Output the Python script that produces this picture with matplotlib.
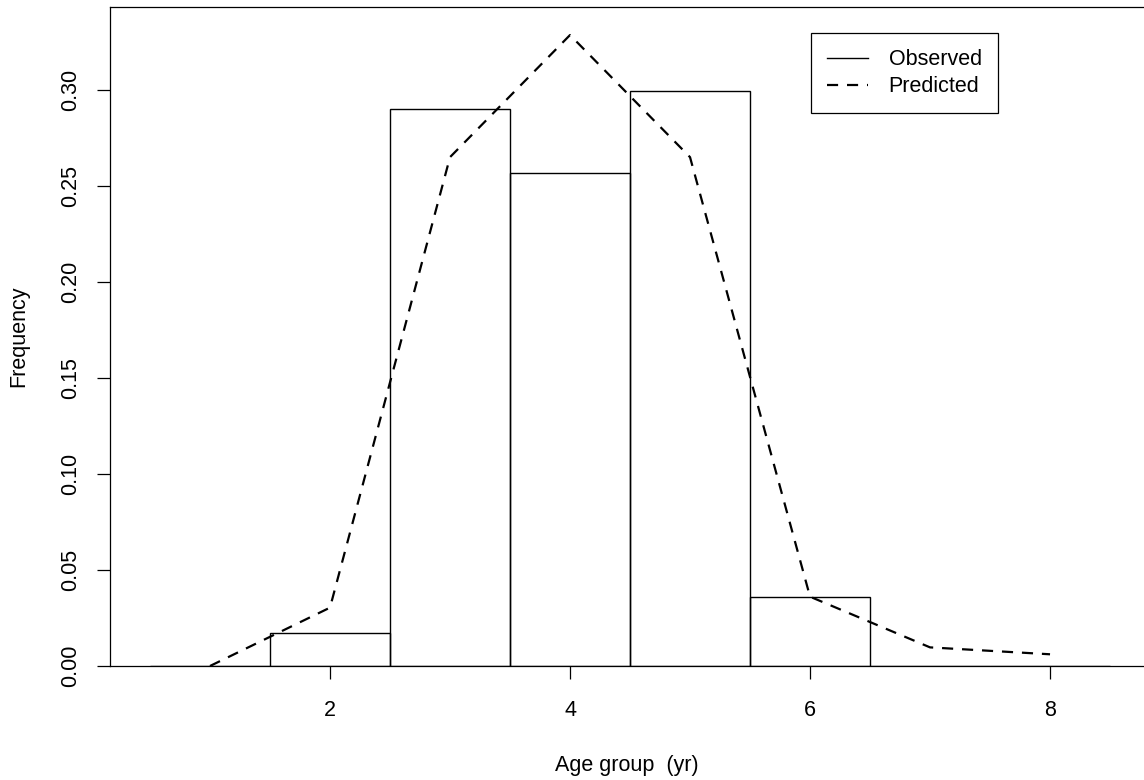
import matplotlib
matplotlib.use("Agg")
import matplotlib.pyplot as plt
from matplotlib.lines import Line2D

# age groups (bin centres) and observed / predicted frequencies
ages = [1, 2, 3, 4, 5, 6, 7, 8]
observed = [0.0, 0.0172, 0.290, 0.257, 0.2996, 0.0361, 0.0, 0.0]
predicted = [0.0, 0.0304, 0.265, 0.3286, 0.265, 0.0361, 0.0097, 0.0061]
yticks = [0.00, 0.05, 0.10, 0.15, 0.20, 0.25, 0.30]
xticks = [2, 4, 6, 8]

plt.rcParams['font.family'] = ['Liberation Sans', 'DejaVu Sans']
FS = 15.5

fig = plt.figure(figsize=(11.44, 7.8), dpi=100)
ax = fig.add_axes([110 / 1144, 1 - 666 / 780, 1 - 110 / 1144, (666 - 7) / 780])

ax.bar(ages, observed, width=1.0, fill=False, edgecolor='black', linewidth=1.0)
ax.plot(ages, predicted, color='black', linewidth=1.6, linestyle=(0, (5, 4)))

ax.set_xlim(0.1667, 8.783)
ax.set_ylim(0, 0.3432)
ax.set_xticks(xticks)
ax.set_xticklabels([str(t) for t in xticks])
ax.set_yticks(yticks)
ax.set_yticklabels(['%.2f' % t for t in yticks], rotation=90, va='center')
ax.tick_params(axis='both', direction='out', length=9.5, width=0.9, labelsize=FS)
ax.tick_params(axis='x', pad=15)
ax.tick_params(axis='y', pad=11)
ax.spines['right'].set_visible(False)
for s in ['left', 'top', 'bottom']:
    ax.spines[s].set_linewidth(0.9)

ax.set_xlabel('Age group  (yr)', fontsize=FS)
ax.xaxis.set_label_coords(0.5, -0.135)
ax.set_ylabel('Frequency', fontsize=FS)
ax.yaxis.set_label_coords(-0.078, 0.5)

# legend with plain line handles, framed box near top right
handles = [Line2D([], [], color='black', linewidth=1.0),
           Line2D([], [], color='black', linewidth=1.6, linestyle=(0, (5, 4)))]
leg = ax.legend(handles, ['Observed', 'Predicted'], loc='upper left',
                bbox_to_anchor=(811 / 1144, 1 - 33 / 780), bbox_transform=fig.transFigure,
                fancybox=False, edgecolor='black', framealpha=1, fontsize=FS,
                handlelength=1.9, handletextpad=0.95, borderpad=0.75, labelspacing=0.28,
                borderaxespad=0)
leg.get_frame().set_linewidth(0.9)

fig.savefig('out.png', dpi=100)
